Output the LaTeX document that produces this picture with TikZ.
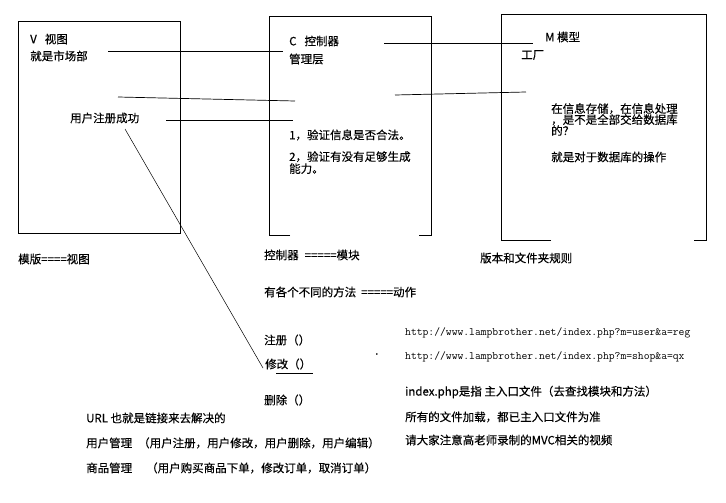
\documentclass[tikz,border=0pt]{standalone}
\usepackage{fontspec}
\setmainfont[FakeBold=0.3]{Noto Sans CJK SC}
\begin{document}
\begin{tikzpicture}[x=1pt,y=-1pt,
  txt/.style={anchor=west,inner sep=0pt,font=\fontsize{11.5}{13}\selectfont},
  urltxt/.style={anchor=west,inner sep=0pt,font=\ttfamily\fontsize{11.3}{13}\selectfont},
  boxline/.style={line width=0.8pt},
  link/.style={line width=0.7pt}]
\useasboundingbox[fill=white] (0,0) rectangle (726,503);

% three boxes: view, controller, model
\draw[boxline] (18,21) rectangle (180,233);
\draw[boxline] (290,235) -- (269,235) -- (269,16) -- (431,16) -- (431,235) -- (419,235);
\draw[boxline] (551,240) -- (501,240) -- (501,14) -- (706,14) -- (706,240) -- (694,240);

% view box
\node[txt] (v)   at (30,39)  {V\hspace{8pt}视图};
\node[txt] (vs)  at (30,56)  {就是市场部};
\node[txt] (reg) at (70,118) {用户注册成功};

% controller box
\node[txt] (c)   at (289,41)  {C\hspace{8pt}控制器};
\node[txt] (cm)  at (289,59)  {管理层};
\node[txt] (c1)  at (289,135) {1，验证信息是否合法。};
\node[txt,align=left,anchor=north west] (c2) at (289,151) {2，验证有没有足够生成\\[-1pt]能力。};

% model box
\node[txt] (m)   at (545,37) {M 模型};
\node[txt] (mf)  at (521,55) {工厂};
\node[txt,align=left,anchor=north west] (mq) at (551,103) {在信息存储，在信息处理\\[-2pt]，是不是全部交给数据库\\[-2pt]的？};
\node[txt] (mo)  at (551,157) {就是对于数据库的操作};

% captions under the boxes
\node[txt] (tv)  at (18,259)  {模版====视图};
\node[txt] (tc)  at (264,255) {控制器\hspace{6pt}=====模块};
\node[txt] (tm)  at (480,258) {版本和文件夹规则};
\node[txt] (ta)  at (264,292) {有各个不同的方法\hspace{5pt}=====动作};

% actions
\node[txt] (a1)  at (264,340) {注册（）};
\node[txt] (a2)  at (265,364) {修改（）};
\node[txt] (a3)  at (264,400) {删除（）};
\node[txt] (dot) at (375,354) {.};

% urls and notes
\node[urltxt] (u1) at (405,333) {http://www.lampbrother.net/index.php?m=user\&a=reg};
\node[urltxt] (u2) at (405,357) {http://www.lampbrother.net/index.php?m=shop\&a=qx};
\node[txt] (n1) at (405,392) {index.php是指 主入口文件（去查找模块和方法）};
\node[txt] (n2) at (405,417) {所有的文件加载，都已主入口文件为准};
\node[txt] (n3) at (405,440) {请大家注意高老师录制的MVC相关的视频};

\node[txt] (url) at (86,418) {URL 也就是链接来去解决的};
\node[txt] (um)  at (86,443) {用户管理\hspace{6pt}（用户注册，用户修改，用户删除，用户编辑）};
\node[txt] (gm)  at (86,468) {商品管理\hspace{14pt}（用户购买商品下单，修改订单，取消订单）};

% connectors between the boxes
\coordinate (l1a) at (108,51);  \coordinate (l1b) at (283,51);
\coordinate (l2a) at (118,97);  \coordinate (l2b) at (295,101);
\coordinate (l3a) at (166,120); \coordinate (l3b) at (293,120);
\coordinate (l4a) at (384,43);  \coordinate (l4b) at (533,43);
\coordinate (l5a) at (395,95);  \coordinate (l5b) at (526,92);
\draw[link] (l1a) -- (l1b);
\draw[link] (l2a) -- (l2b);
\draw[link] (l3a) -- (l3b);
\draw[link] (l4a) -- (l4b);
\draw[link] (l5a) -- (l5b);

% from the success message down to the edit action, and its underline
\coordinate (dg) at (125,129);
\draw[line width=0.5pt] (dg) -- ([xshift=-2pt,yshift=-4pt]a2.west);
\draw[link] ([xshift=11pt,yshift=-9pt]a2.west) -- ([xshift=48pt,yshift=-9pt]a2.west);
\end{tikzpicture}
\end{document}
